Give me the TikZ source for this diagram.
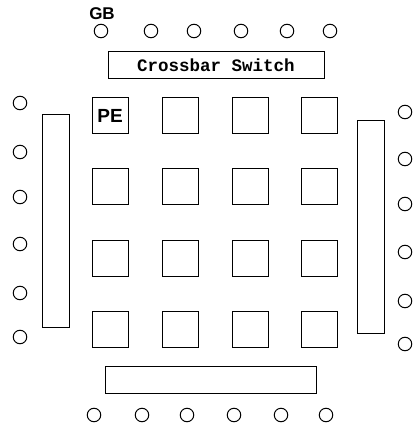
\documentclass[tikz,border=0pt]{standalone}
\usepackage{fontspec}
\newfontfamily\sansb{Liberation Sans}
\newfontfamily\monob{Liberation Mono}
\begin{document}
\begin{tikzpicture}[x=1pt,y=-1pt,
  port/.style={circle,draw,line width=1pt,minimum size=13.5pt,inner sep=0pt},
  pe/.style={rectangle,draw,line width=1pt,minimum size=36pt,inner sep=0pt},
  bar/.style={rectangle,draw,line width=1pt,inner sep=0pt}]
\useasboundingbox (0,0) rectangle (416,427);
% label GB
\node[font=\sansb\bfseries\fontsize{17}{17}\selectfont,inner sep=0pt] (gb) at (102,14) {GB};
% top ports
\foreach \x [count=\i] in {101,151,194,241,287,330}
  \node[port] (t\i) at (\x,31) {};
% crossbar switch
\node[bar,minimum width=216pt,minimum height=27pt,font=\monob\bfseries\fontsize{17.5}{17.5}\selectfont] (xbar) at (216,65.5) {Crossbar Switch};
% left bar and ports
\node[bar,minimum width=27pt,minimum height=212pt] (lbar) at (55.5,221) {};
\foreach \y [count=\i] in {103,152,197,244,293,337}
  \node[port] (l\i) at (20,\y) {};
% right bar and ports
\node[bar,minimum width=27pt,minimum height=212pt] (rbar) at (370.5,227) {};
\foreach \y [count=\i] in {112,159,204,252,301,344}
  \node[port] (r\i) at (405,\y) {};
% bottom bar and ports
\node[bar,minimum width=211pt,minimum height=27pt] (bbar) at (210.5,380) {};
\foreach \x [count=\i] in {94,142,187,234,281,326}
  \node[port] (b\i) at (\x,415) {};
% PE grid
\node[pe,font=\sansb\bfseries\fontsize{19}{19}\selectfont] (p11) at (110,116) {PE};
\foreach \x [count=\c] in {110,180,250,319}
  \foreach \y [count=\r] in {116,187,258,329}
    {\ifnum\c\r=11\else\node[pe] (p\r\c) at (\x,\y) {};\fi}
\end{tikzpicture}
\end{document}
